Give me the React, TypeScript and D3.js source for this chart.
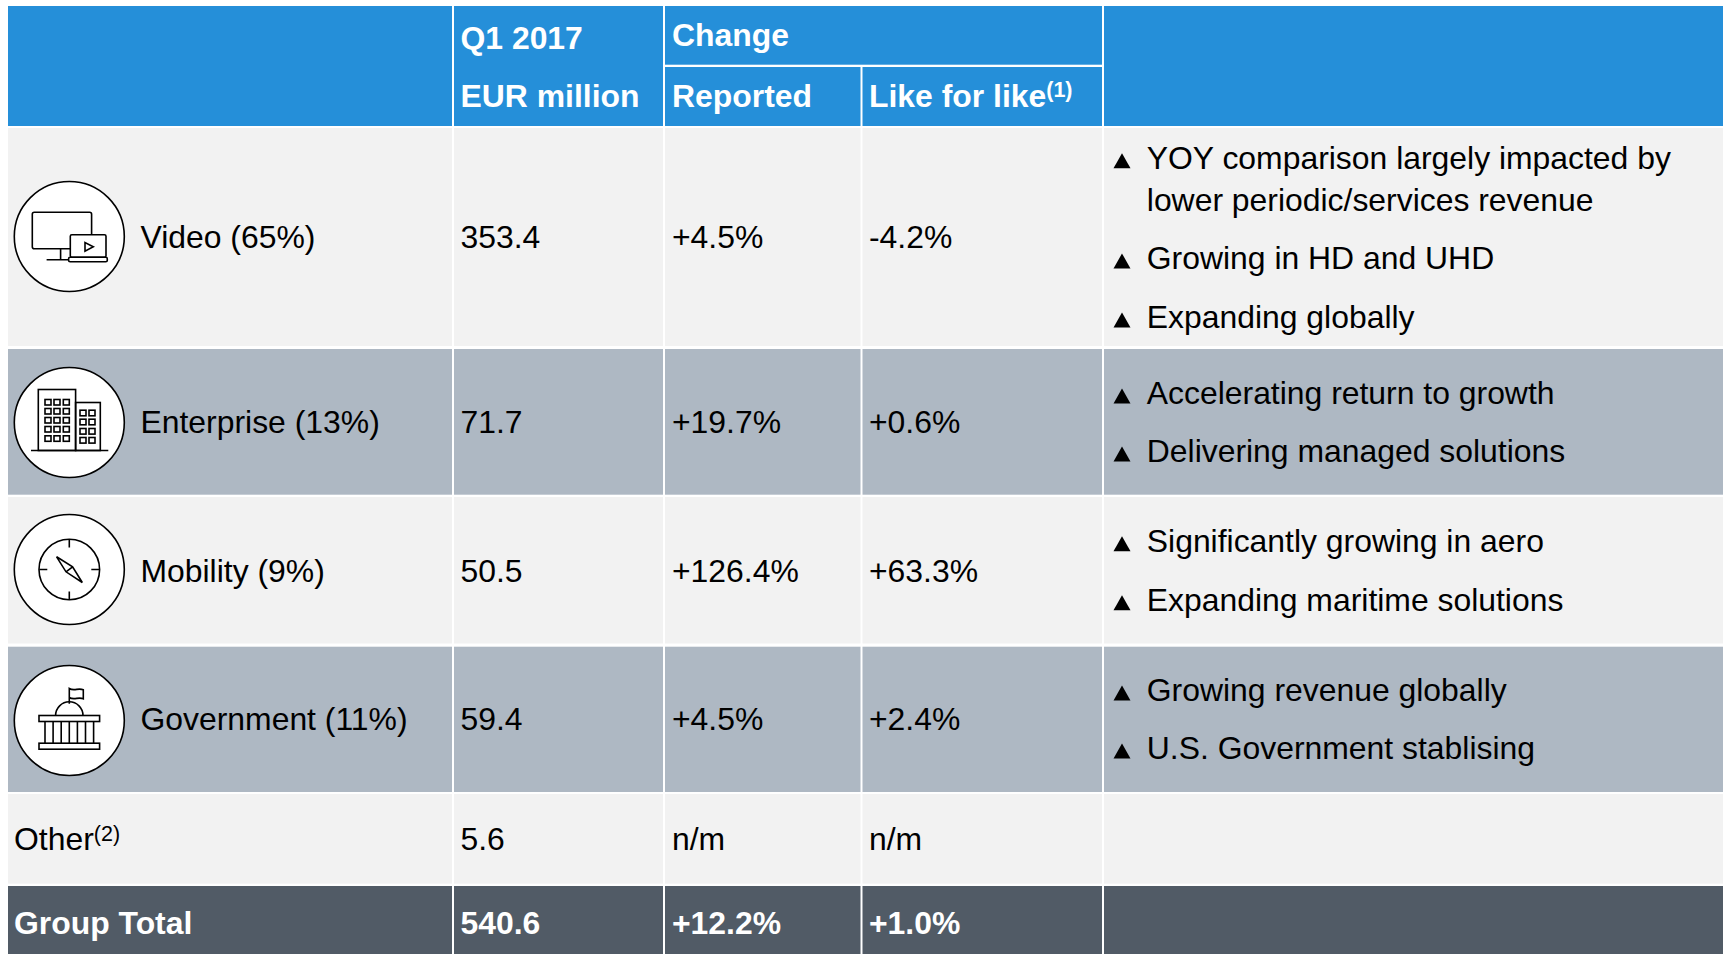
import * as d3 from "d3";

const segments = ["Video (65%)", "Enterprise (13%)", "Mobility (9%)", "Government (11%)"];
const otherLabel = "Other";
const totalLabel = "Group Total";
const revenue = [353.4, 71.7, 50.5, 59.4, 5.6, 540.6];
const reported = [4.5, 19.7, 126.4, 4.5, null, 12.2];
const likeForLike = [-4.2, 0.6, 63.3, 2.4, null, 1.0];

const videoNotes = ["YOY comparison largely impacted by", "lower periodic/services revenue", "Growing in HD and UHD", "Expanding globally"];
const enterpriseNotes = ["Accelerating return to growth", "Delivering managed solutions"];
const mobilityNotes = ["Significantly growing in aero", "Expanding maritime solutions"];
const governmentNotes = ["Growing revenue globally", "U.S. Government stablising"];

const WIDTH = 1725;
const HEIGHT = 954;
const FONT = "'Liberation Sans', Arial, sans-serif";
const SIZE = 31.9;

const BLUE = "#258fd9";
const LIGHT = "#f2f2f2";
const SLATE = "#aeb8c3";
const DARK = "#515b66";
const INK = "#000";

// table grid: [start, end] of every column and row
const colEdges = [[8, 452], [454, 663], [665, 860.5], [862.5, 1102], [1104, 1723]];
const rowEdges = [[128, 346], [349, 494.7], [497, 643.5], [646.7, 792], [794, 883.7], [886, 954]];
const rowFills = [LIGHT, SLATE, LIGHT, SLATE, LIGHT, DARK];

const rowIdx = d3.range(rowEdges.length);
const rowTop = d3.scaleOrdinal<number, number>().domain(rowIdx).range(rowEdges.map(d => d[0]));
const rowBottom = d3.scaleOrdinal<number, number>().domain(rowIdx).range(rowEdges.map(d => d[1]));
const rowBaseline = d3.scaleOrdinal<number, number>().domain(rowIdx).range([248, 432.7, 581.7, 730, 850.3, 933.5]);
const iconY = d3.scaleOrdinal<number, number>().domain(d3.range(4)).range([236.5, 422.5, 569.5, 720.5]);

const colText = [14, 460.5, 672, 869];
const LABEL_X = 140.5;
const ICON_X = 69.3;
const NOTE_X = 1146.8;

const noteRows = [
    { notes: videoNotes, baselines: [168.7, 210.7, 269, 328], bullet: [true, false, true, true] },
    { notes: enterpriseNotes, baselines: [404, 462], bullet: [true, true] },
    { notes: mobilityNotes, baselines: [551.7, 610.7], bullet: [true, true] },
    { notes: governmentNotes, baselines: [701, 759], bullet: [true, true] },
];

const fmtLocale = d3.formatLocale({ decimal: ".", thousands: ",", grouping: [3], currency: ["", ""], minus: "-" });
const fmtRevenue = fmtLocale.format(".1f");
const fmtChange = (v: number | null) => (v === null ? "n/m" : fmtLocale.format("+.1f")(v) + "%");

const bulletPath = (baseline: number) => {
    const p = d3.path();
    p.moveTo(1122, baseline - 15.5);
    p.lineTo(1130.5, baseline - 0.5);
    p.lineTo(1113.5, baseline - 0.5);
    p.closePath();
    return p.toString();
};

const stroke = { fill: "none", stroke: INK, strokeWidth: 1.6 };

const VideoIcon = () => (
    <g>
        <rect x={-37} y={-24.3} width={59.3} height={36.6} rx={2} {...stroke} />
        <path d="M-8.7 12.3V23.3M-22.7 23.3H-0.7" {...stroke} />
        <rect x={1} y={-1.7} width={35.7} height={22.4} rx={1.5} {...stroke} fill="#fff" />
        <rect x={-0.7} y={20.7} width={38.7} height={4.6} rx={1.5} {...stroke} fill="#fff" />
        <path d="M15.7 6V14.7L24 10.3Z" {...stroke} />
    </g>
);

const EnterpriseIcon = () => (
    <g>
        <rect x={-31} y={-33} width={37.3} height={61} {...stroke} />
        <rect x={6.3} y={-20} width={24.7} height={48} {...stroke} />
        <path d="M-38.3 28H39" {...stroke} />
        {[-24.3, -15.3, -6].flatMap(x => [-23, -14, -5, 4, 13.3].map(y => (
            <rect key={`b${x}${y}`} x={x} y={y} width={6} height={5.5} {...stroke} />
        )))}
        {[10.7, 19.7].flatMap(x => [-12.3, -3.3, 6, 15].map(y => (
            <rect key={`s${x}${y}`} x={x} y={y} width={6} height={5.6} {...stroke} />
        )))}
    </g>
);

const MobilityIcon = () => (
    <g>
        <circle r={30.3} {...stroke} />
        <path d="M0 -30V-22M0 30V22M-30 0H-22M30 0H22" {...stroke} />
        <path d="M-12.7 -12.7L3.3 -2.7L13 13L-3.3 2.3ZM3.3 -2.7L-3.3 2.3" {...stroke} />
    </g>
);

const GovernmentIcon = () => {
    const dome = d3.arc()({ innerRadius: 13.7, outerRadius: 13.7, startAngle: -Math.PI / 2, endAngle: Math.PI / 2 }) as string;
    return (
        <g>
            <path d="M0 -16.7V-32C5 -29 9 -33 14 -30.7V-21.7C9 -24 5 -20 0 -23" {...stroke} />
            <path d={dome} transform="translate(0,-5)" {...stroke} />
            <rect x={-30.3} y={-5} width={60.6} height={6} {...stroke} />
            <rect x={-30.3} y={22.7} width={60.6} height={6} {...stroke} />
            {d3.range(-24.3, 24.4, 8.1).map(x => (
                <line key={x} x1={x} x2={x} y1={1} y2={22.7} stroke={INK} strokeWidth={1.6} />
            ))}
        </g>
    );
};

const icons = [VideoIcon, EnterpriseIcon, MobilityIcon, GovernmentIcon];

export default function App() {
    return (
        <svg
            width={WIDTH}
            height={HEIGHT}
            viewBox={`0 0 ${WIDTH} ${HEIGHT}`}
            style={{ position: "absolute", left: 0, top: 0, display: "block", background: "#fff" }}
            fontFamily={FONT}
            fontSize={SIZE}
        >
            {/* header cells */}
            <g fill={BLUE}>
                <rect x={8} y={6} width={444} height={120} />
                <rect x={454} y={6} width={209} height={120} />
                <rect x={665} y={6} width={437} height={58.7} />
                <rect x={665} y={67} width={195.5} height={59} />
                <rect x={862.5} y={67} width={239.5} height={59} />
                <rect x={1104} y={6} width={619} height={120} />
            </g>
            <g fill="#fff" fontWeight="bold">
                <text x={460.5} y={49}>Q1 2017</text>
                <text x={460.5} y={106.7}>EUR million</text>
                <text x={672} y={46}>Change</text>
                <text x={672} y={106.7}>Reported</text>
                <text x={869} y={106.7}>
                    Like for like<tspan dy={-9.5} fontSize={21.5}>(1)</tspan>
                </text>
            </g>

            {/* body cells */}
            {rowIdx.map(r => (
                <g key={r} fill={rowFills[r]}>
                    {colEdges.map(([x0, x1], c) => (
                        <rect key={c} x={x0} y={rowTop(r)} width={x1 - x0} height={rowBottom(r) - rowTop(r)} />
                    ))}
                </g>
            ))}

            {/* row labels */}
            {segments.map((name, i) => {
                const Icon = icons[i];
                return (
                    <g key={name}>
                        <g transform={`translate(${ICON_X},${iconY(i)})`}>
                            <circle r={55} fill="#fff" stroke={INK} strokeWidth={1.6} />
                            <Icon />
                        </g>
                        <text x={LABEL_X} y={rowBaseline(i)} fill={INK}>{name}</text>
                    </g>
                );
            })}
            <text x={colText[0]} y={rowBaseline(4)} fill={INK}>
                {otherLabel}<tspan dy={-9.5} fontSize={21.5}>(2)</tspan>
            </text>
            <text x={colText[0]} y={rowBaseline(5)} fill="#fff" fontWeight="bold">{totalLabel}</text>

            {/* values */}
            {rowIdx.map(r => (
                <g key={r} fill={r === 5 ? "#fff" : INK} fontWeight={r === 5 ? "bold" : "normal"}>
                    <text x={colText[1]} y={rowBaseline(r)}>{fmtRevenue(revenue[r])}</text>
                    <text x={colText[2]} y={rowBaseline(r)}>{fmtChange(reported[r])}</text>
                    <text x={colText[3]} y={rowBaseline(r)}>{fmtChange(likeForLike[r])}</text>
                </g>
            ))}

            {/* comments */}
            {noteRows.flatMap((row, r) => row.notes.map((note, i) => (
                <g key={`${r}-${i}`} fill={INK}>
                    {row.bullet[i] && <path d={bulletPath(row.baselines[i])} />}
                    <text x={NOTE_X} y={row.baselines[i]}>{note}</text>
                </g>
            )))}
        </svg>
    );
}
